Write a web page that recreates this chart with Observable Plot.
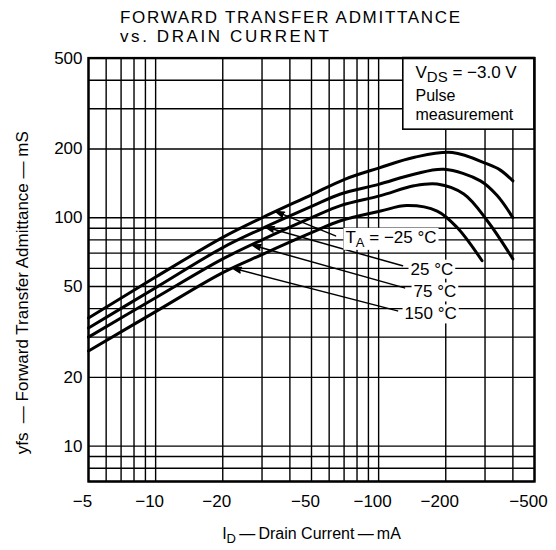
<!DOCTYPE html>
<html><head><meta charset="utf-8">
<script src="https://cdn.jsdelivr.net/npm/d3@7"></script>
<script src="https://cdn.jsdelivr.net/npm/@observablehq/plot@0.6"></script>
<style>
body{margin:0;background:#fff;font-family:"Liberation Sans",Arial,sans-serif;color:#000;}
#title{height:48px;box-sizing:border-box;padding:7.5px 0 0 120px;font-size:17px;letter-spacing:1.7px;line-height:19.5px;white-space:nowrap;}
#title span{letter-spacing:2.6px;}
#chart svg{display:block;}
</style></head><body>
<div id="title">FORWARD TRANSFER ADMITTANCE<br><span>vs. DRAIN CURRENT</span></div>
<div id="chart"></div>
<script>
// ---- data (I_D in mA, |yfs| in mS; drain current shown negative on the axis) ----
const tempLabels = ["TA = −25 °C", "25 °C", "75 °C", "150 °C"];
const idM25  = [5, 10, 20, 30, 50, 70, 100, 145, 214, 307, 350, 400];
const yfsM25 = [36.4, 55, 82, 100, 126, 147, 165, 184, 193, 172, 162, 145];
const id25   = [5, 10, 20, 30, 50, 67.5, 100, 144, 196, 286, 340, 400];
const yfs25  = [32.9, 49.4, 74, 89.6, 112, 127, 140, 155, 163, 145, 125, 100];
const id75   = [5, 10, 20, 30, 50, 67.5, 102, 144, 183, 241, 307, 400];
const yfs75  = [30, 44.6, 66, 80, 100, 113, 125, 138, 140.5, 127, 97, 66];
const id150  = [5, 10, 20, 30, 50, 67.5, 102, 134, 183, 225, 291];
const yfs150 = [26.1, 38.8, 57.5, 69, 86, 97, 107, 113, 107, 90.6, 64.8];

const xGrid = [5,6,7,8,9,10,20,30,40,50,60,70,80,90,100,200,300,400,500];
const yGrid = [7,8,9,10,20,30,40,50,60,70,80,90,100,200,300,400,500];
const xTicks = [5,10,20,50,100,200,500];
const yTicks = [10,20,50,100,200,500];

// label anchors (data units)
const labelX = [71, 139, 143.4, 130.7];
const labelY = [82, 59.5, 47.3, 37.9];
// arrows: from label end to curve
const arrowFromX = [64.1, 128, 130.7, 121.6];
const arrowFromY = [83.3, 61.6, 49.3, 39.1];
const arrowToX = [34.5, 31.1, 27.1, 22.1];
const arrowToY = [106.6, 91, 75.9, 60.2];

// condition box
const boxX = [129, 500];
const boxY = [243, 500];
const boxText = ["VDS = −3.0 V", "Pulse", "measurement"];
const boxTextX = [146.3, 146.3, 146.3];
const boxTextY = [433, 341, 283];

const yAxisLabel = "yfs  — Forward Transfer Admittance — mS";
const xAxisLabel = "ID\u2009—\u2009Drain Current\u2009—\u2009mA";

// ---- build tables ----
const seriesIds = [idM25, id25, id75, id150];
const seriesYfs = [yfsM25, yfs25, yfs75, yfs150];
const curves = seriesIds.flatMap((xs, s) => xs.map((x, i) => ({s, x, y: seriesYfs[s][i]})));
const labels = tempLabels.map((t, i) => ({t, x: labelX[i], y: labelY[i]}));
const arrows = arrowFromX.map((x, i) => ({x1: x, y1: arrowFromY[i], x2: arrowToX[i], y2: arrowToY[i]}));
const box = [{x1: boxX[0], x2: boxX[1], y1: boxY[0], y2: boxY[1]}];
const boxLines = boxText.map((t, i) => ({t, x: boxTextX[i], y: boxTextY[i]}));

const font = "Liberation Sans, Arial, sans-serif";
const plot = Plot.plot({
  width: 556, height: 502,
  marginLeft: 88, marginRight: 22, marginTop: 9.6, marginBottom: 69,
  style: {fontFamily: font, fontSize: "17px", color: "#000", background: "#fff", overflow: "visible"},
  x: {type: "log", domain: [5, 500]},
  y: {type: "log", domain: [7, 500]},
  marks: [
    Plot.ruleX(xGrid, {stroke: "#000", strokeWidth: 1.4}),
    Plot.ruleY(yGrid, {stroke: "#000", strokeWidth: 1.4}),
    Plot.rect(box, {x1: "x1", x2: "x2", y1: "y1", y2: "y2", fill: "#fff", stroke: "#000", strokeWidth: 1.6}),
    Plot.text(boxLines, {x: "x", y: "y", text: "t", textAnchor: "start", fontSize: 16, fill: "#000"}),
    Plot.line(curves, {x: "x", y: "y", z: "s", stroke: "#000", strokeWidth: 3, curve: "catmull-rom"}),
    Plot.arrow(arrows, {x1: "x1", y1: "y1", x2: "x2", y2: "y2", stroke: "#000", strokeWidth: 1.5, headLength: 9, headAngle: 35}),
    Plot.text(labels, {x: "x", y: "y", text: "t", textAnchor: "start", fontSize: 17, fill: "#000"}),
    Plot.frame({stroke: "#000", strokeWidth: 2.4}),
    Plot.axisX({ticks: xTicks, tickFormat: d => "−" + d, tickSize: 0, tickPadding: 13, fontSize: 17, dx: -6, label: null}),
    Plot.axisY({ticks: yTicks, tickFormat: d => String(d), tickSize: 0, tickPadding: 6, fontSize: 17, label: null}),
    Plot.text([yAxisLabel], {text: d => d, frameAnchor: "left", textAnchor: "middle", rotate: -90, dx: -66, dy: 23, fontSize: 17, letterSpacing: 1.8}),
    Plot.text([xAxisLabel], {text: d => d, frameAnchor: "bottom", textAnchor: "middle", dy: 57, fontSize: 16})
  ]
});
document.getElementById("chart").appendChild(plot);

// subscripts
plot.querySelectorAll("text").forEach(t => {
  const s = t.textContent;
  if (s === "VDS = −3.0 V") {
    t.innerHTML = 'V<tspan font-size="15" dy="4">DS</tspan><tspan dy="-4"> = −3.0 V</tspan>';
    t.setAttribute("font-size", "17");
  } else if (s === "TA = −25 °C") {
    t.innerHTML = 'T<tspan font-size="13" dy="4">A</tspan><tspan dy="-4"> = −25 °C</tspan>';
  } else if (s === xAxisLabel) {
    t.innerHTML = 'I<tspan font-size="13" dy="4">D</tspan><tspan dy="-4">\u2009—\u2009Drain Current\u2009—\u2009mA</tspan>';
  }
});
// white boxes behind the temperature labels (break the grid like the original)
plot.querySelectorAll("text").forEach(t => {
  if (tempLabels.includes(t.textContent)) {
    const b = t.getBBox();
    const r = document.createElementNS("http://www.w3.org/2000/svg", "rect");
    r.setAttribute("x", b.x - 2); r.setAttribute("y", b.y);
    r.setAttribute("width", b.width + 4); r.setAttribute("height", b.height);
    r.setAttribute("fill", "#fff"); r.setAttribute("stroke", "none");
    const tr = t.getAttribute("transform"); if (tr) r.setAttribute("transform", tr);
    t.parentNode.insertBefore(r, t);
  }
});
// filled arrowheads
plot.querySelectorAll('g[aria-label="arrow"]').forEach(g => {
  g.setAttribute("fill", "#000");
  g.querySelectorAll("path").forEach(p => p.setAttribute("fill", "#000"));
});
</script></body></html>
